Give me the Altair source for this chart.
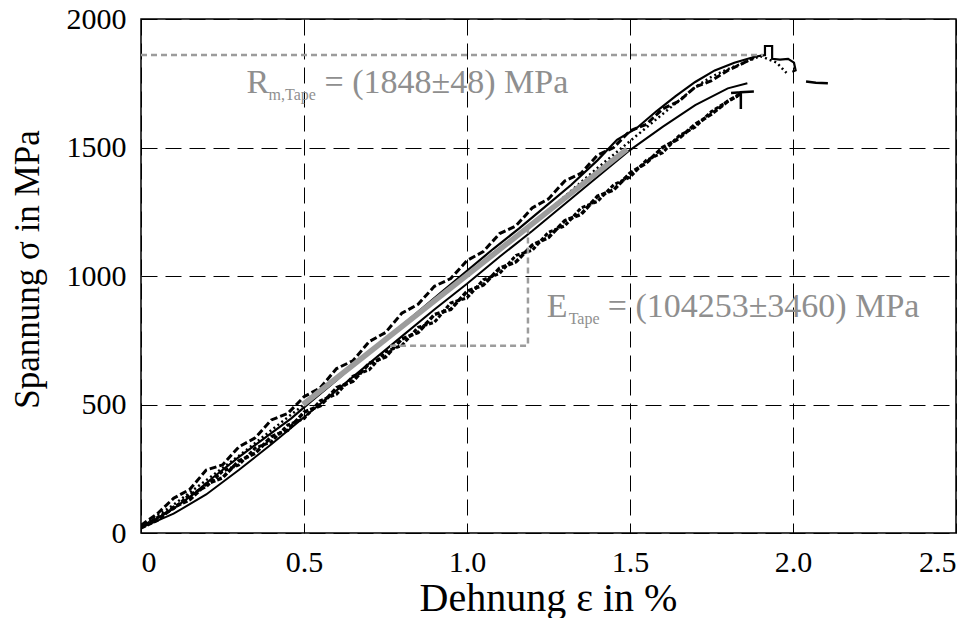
import altair as alt
import pandas as pd

# ---------------- data (strain in %, stress in MPa) ----------------
A_x = [0.00, 0.04, 0.10, 0.16, 0.22, 0.30, 0.38, 0.46, 0.52, 0.60, 0.68, 0.76, 0.84, 0.92, 1.00,
       1.08, 1.16, 1.24, 1.32, 1.40, 1.46, 1.52, 1.58, 1.64, 1.70, 1.76, 1.82, 1.88, 1.914, 1.914,
       1.936, 1.936, 1.96, 1.985, 2.003, 2.008, 1.998]
A_y = [25, 50, 95, 150, 215, 295, 370, 445, 510, 595, 685, 765, 850, 935, 1020,
       1105, 1185, 1270, 1355, 1450, 1530, 1575, 1640, 1700, 1755, 1800, 1830, 1852, 1860, 1895,
       1895, 1845, 1842, 1845, 1830, 1800, 1795]

B_x = [0.00, 0.05, 0.10, 0.15, 0.20, 0.25, 0.30, 0.35, 0.40, 0.45, 0.50, 0.55, 0.60, 0.65, 0.70,
       0.75, 0.80, 0.85, 0.90, 0.95, 1.00, 1.05, 1.10, 1.15, 1.20, 1.25, 1.30, 1.35, 1.40, 1.45,
       1.50, 1.55, 1.60, 1.65, 1.70, 1.75, 1.80, 1.85, 1.88]
B_y = [30, 75, 135, 170, 245, 265, 335, 370, 440, 465, 530, 565, 640, 670, 745,
       780, 855, 890, 960, 990, 1060, 1095, 1165, 1195, 1265, 1300, 1370, 1400, 1470, 1500,
       1565, 1590, 1650, 1680, 1735, 1760, 1800, 1830, 1850]

C_x = [0.00, 0.10, 0.20, 0.30, 0.40, 0.50, 0.60, 0.70, 0.80, 0.90, 1.00, 1.10, 1.20, 1.30, 1.40,
       1.50, 1.60, 1.70, 1.75, 1.80, 1.85, 1.90, 1.95, 1.98]
C_y = [25, 110, 205, 300, 400, 500, 600, 700, 800, 900, 1000, 1100, 1200, 1310, 1420,
       1525, 1630, 1735, 1775, 1805, 1830, 1856, 1830, 1790]

D_x = [0.00, 0.05, 0.10, 0.15, 0.20, 0.25, 0.30, 0.35, 0.40, 0.45, 0.50, 0.55, 0.60, 0.65, 0.70,
       0.75, 0.80, 0.85, 0.90, 0.95, 1.00, 1.05, 1.10, 1.15, 1.20, 1.25, 1.30, 1.35, 1.40, 1.45,
       1.50, 1.55, 1.60, 1.65, 1.70, 1.75, 1.80, 1.84]
D_y = [20, 50, 100, 130, 190, 215, 280, 310, 375, 400, 470, 495, 565, 590, 660,
       685, 755, 780, 850, 870, 940, 965, 1030, 1055, 1120, 1150, 1215, 1240, 1310, 1335,
       1400, 1440, 1500, 1535, 1590, 1630, 1680, 1710]

G_x = [0.00, 0.05, 0.10, 0.15, 0.20, 0.25, 0.30, 0.35, 0.40, 0.45, 0.50, 0.55, 0.60, 0.65, 0.70,
       0.75, 0.80, 0.85, 0.90, 0.95, 1.00, 1.05, 1.10, 1.15, 1.20, 1.25, 1.30, 1.35, 1.40, 1.45,
       1.50, 1.55, 1.60, 1.65, 1.70, 1.75, 1.80, 1.83]
G_y = [22, 60, 95, 150, 180, 240, 265, 330, 355, 420, 445, 515, 540, 610, 635,
       705, 730, 800, 820, 895, 915, 985, 1010, 1080, 1100, 1170, 1195, 1265, 1290, 1355,
       1385, 1450, 1480, 1545, 1580, 1640, 1680, 1700]

# end of the lower curve (small "T")
T_x = [1.81, 1.84, 1.88, 1.84, 1.84]
T_y = [1712, 1715, 1718, 1715, 1650]

E_x = [0.00, 0.10, 0.20, 0.30, 0.40, 0.50, 0.60, 0.70, 0.80, 0.90, 1.00, 1.10, 1.20, 1.30, 1.40,
       1.50, 1.60, 1.70, 1.80, 1.86]
E_y = [20, 75, 150, 245, 345, 450, 555, 660, 765, 870, 970, 1075, 1175, 1280, 1385,
       1490, 1580, 1665, 1730, 1750]

F_x = [2.04, 2.07, 2.107]
F_y = [1757, 1752, 1750]

# gray fit line and annotation guides
fit_x = [0.497, 1.491]
fit_y = [500, 1494]
tri_x = [0.764, 1.187, 1.187]
tri_y = [729, 729, 1185]
rm_x = [0.0, 1.908]
rm_y = [1860, 1860]

x_ticks = [0, 0.5, 1.0, 1.5, 2.0, 2.5]
y_ticks = [0, 500, 1000, 1500, 2000]

rm_label = ["R", "m,Tape", "= (1848±48) MPa"]
e_label = ["E", "Tape", "= (104253±3460) MPa"]
rm_anchor = (0.324, 1712)
e_anchor = (1.2445, 842)

FONT = "Liberation Serif"
GRAY_TXT = "#8f8f8f"
GRAY_LN = "#9c9c9c"

xs = alt.Scale(domain=[0, 2.5], nice=False, zero=False)
ys = alt.Scale(domain=[0, 2000], nice=False, zero=False)


def seq(xv, yv):
    return pd.DataFrame({"x": xv, "y": yv, "o": list(range(len(xv)))})


def curve(xv, yv, color="black", width=2.0, dash=None):
    kw = dict(color=color, strokeWidth=width, clip=True)
    if dash is not None:
        kw["strokeDash"] = dash
    return alt.Chart(seq(xv, yv)).mark_line(**kw).encode(
        x=alt.X("x:Q", scale=xs),
        y=alt.Y("y:Q", scale=ys),
        order="o:Q",
    )


base = alt.Chart(pd.DataFrame({"x": [0.0], "y": [0.0]})).mark_point(opacity=0).encode(
    x=alt.X("x:Q", scale=xs, title="Dehnung ε in %",
            axis=alt.Axis(values=x_ticks,
                          labelExpr="datum.value == 0 ? '0' : format(datum.value, '.1f')",
                          grid=True, ticks=False, domain=False,
                          labelPadding=14, titleX=407, titleY=77, titleFontSize=40,
                          titleBaseline="alphabetic", titleAlign="center")),
    y=alt.Y("y:Q", scale=ys, title="Spannung σ in MPa",
            axis=alt.Axis(values=y_ticks, format="d", grid=True, ticks=False, domain=False,
                          labelPadding=15, titleX=-114, titleY=250, titleFontSize=35,
                          titleBaseline="middle", titleAlign="center")),
)

layers = [
    base,
    curve(E_x, E_y, width=2.0),
    curve(G_x, G_y, width=3.0, dash=[4, 2]),
    curve(D_x, D_y, width=3.5, dash=[5, 2]),
    curve(T_x, T_y, width=2.5),
    curve(C_x, C_y, width=2.5, dash=[2, 3]),
    curve(B_x, B_y, width=3.0, dash=[7, 3]),
    curve(A_x, A_y, width=2.2),
    curve(F_x, F_y, width=2.5),
    curve(fit_x, fit_y, color=GRAY_LN, width=5.5),
    curve(tri_x, tri_y, color=GRAY_LN, width=2.5, dash=[6, 4]),
    curve(rm_x, rm_y, color=GRAY_LN, width=2.5, dash=[6, 4]),
]


def label(parts, anchor, sub_dx, main_dx):
    df = pd.DataFrame({"x": [anchor[0]], "y": [anchor[1]]})
    big = dict(font=FONT, fontSize=34, color=GRAY_TXT, align="left", baseline="alphabetic")
    small = dict(font=FONT, fontSize=16, color=GRAY_TXT, align="left", baseline="alphabetic")
    enc = dict(x=alt.X("x:Q", scale=xs), y=alt.Y("y:Q", scale=ys))
    return [
        alt.Chart(df).mark_text(text=parts[0], **big).encode(**enc),
        alt.Chart(df).mark_text(text=parts[1], dx=sub_dx, dy=7, **small).encode(**enc),
        alt.Chart(df).mark_text(text=parts[2], dx=main_dx, **big).encode(**enc),
    ]


layers += label(rm_label, rm_anchor, 22, 78)
layers += label(e_label, e_anchor, 22, 61)

chart = alt.layer(*layers).properties(
    width=815, height=514,
    autosize=alt.AutoSizeParams(type="none"),
    padding={"left": 133, "top": 11, "right": 14, "bottom": 85},
).configure_view(
    stroke="black", strokeWidth=1.5
).configure_axis(
    labelFont=FONT, labelFontSize=30, labelColor="black",
    titleFont=FONT, titleFontSize=34, titleFontWeight="normal", titleColor="black",
    gridColor="black", gridDash=[16, 8], gridWidth=1, gridOpacity=1,
)

chart.save("out.html", embed_options={"renderer": "svg", "actions": False})
